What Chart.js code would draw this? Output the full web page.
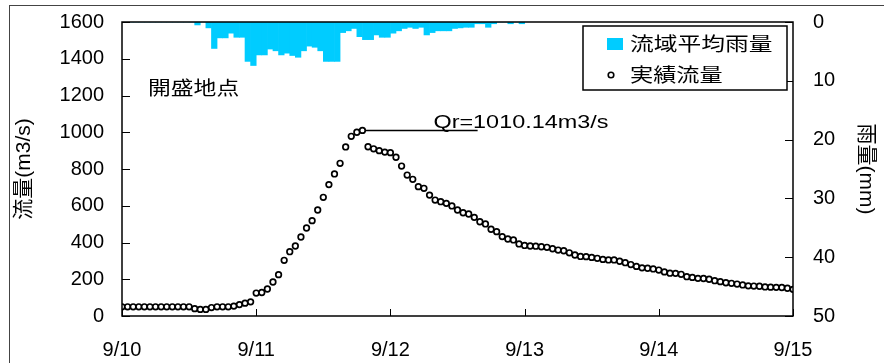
<!DOCTYPE html>
<html lang="ja">
<head>
<meta charset="utf-8">
<title>開盛地点 流量・雨量</title>
<script src="https://cdn.jsdelivr.net/npm/chart.js@4.4.1/dist/chart.umd.min.js"></script>
<style>
  html, body { margin: 0; padding: 0; background: #fff; }
  #wrap { width: 884px; height: 363px; }
</style>
</head>
<body>
<div id="wrap"><canvas id="flowChart" width="884" height="363"></canvas></div>
<script>
// Observed discharge (m3/s), hourly from 9/10 0:00 to 9/15 0:00
const flowValues = [
  50, 50, 50, 50, 50, 50, 50, 50, 50, 50, 50, 50, 50,
  40, 36, 36, 46, 50, 50, 50, 54, 62, 70, 77,
  125, 128, 147, 185, 225, 303, 350, 381, 430, 479, 519, 577, 646, 715, 773, 831, 920, 978, 1000, 1010.14,
  921, 910, 900, 892, 889, 864, 816, 767, 744, 704, 695, 658, 631, 622, 613, 599, 577,
  562, 555, 537, 513, 501, 472, 459, 432, 419, 414, 392, 384, 381, 380, 377, 374, 366, 359, 355, 344,
  332, 324, 323, 319, 314, 308, 305, 305, 298, 290, 280, 270, 262, 260, 256, 250, 240, 233, 232, 227,
  214, 210, 205, 204, 200, 192, 187, 181, 178, 174, 169, 164, 163, 162, 158, 157, 156, 155, 151, 145
];

// Basin average rainfall (mm) for each hour, starting 9/10 0:00
const rainValues = [
  0, 0, 0, 0, 0, 0, 0, 0, 0, 0, 0, 0, 0,
  0.5, 0, 1.0, 4.5, 2.7, 2.7, 1.9, 2.6, 2.6, 6.7, 7.4,
  5.6, 5.6, 4.6, 4.9, 5.6, 5.3, 5.7, 6.0, 4.9, 4.1, 4.3, 4.9, 6.7, 6.7, 6.7,
  1.8, 1.5, 1.1, 2.5, 3.0, 3.0, 2.2, 2.6, 2.6, 1.9, 1.5, 1.1, 0.9, 1.1, 0.9, 2.2, 1.8,
  1.5, 1.5, 1.5, 1.1, 1.0, 0.9, 0.9, 0.3, 0.3, 0.9, 0.3, 0, 0, 0.3, 0, 0.3
];

const dayLabels = ['9/10', '9/11', '9/12', '9/13', '9/14', '9/15'];
const flowTicks = [0, 200, 400, 600, 800, 1000, 1200, 1400, 1600];
const rainTicks = [0, 10, 20, 30, 40, 50];

// Peak marker
const peakHour = 43;
const peakFlow = 1010.14;
const peakLineEndHour = 63.6;

const tickFont = { family: "'Liberation Sans', Arial, sans-serif", size: 20 };
const cjkFont = "'Liberation Sans', 'Noto Sans CJK JP', sans-serif";

// Text drawn wider than tall, like the original figure
function drawWide(ctx, text, px, py, stretch) {
  ctx.save();
  ctx.translate(px, py);
  ctx.scale(stretch, 1);
  ctx.fillText(text, 0, 0);
  ctx.restore();
}

// Keep the tick label padding from pushing the plot area around
function fixVertical(width) {
  return s => {
    s.width = width;
    s.paddingTop = 0;
    s.paddingBottom = 0;
  };
}

// Frame, inward ticks, labels and legend
const chartExtras = {
  id: 'chartExtras',
  afterDraw(chart) {
    const { ctx, chartArea: a } = chart;
    const { x, y, y2 } = chart.scales;
    ctx.save();

    // outer figure frame
    ctx.strokeStyle = '#444';
    ctx.lineWidth = 1;
    ctx.strokeRect(9.5, 5.5, chart.width + 20, chart.height + 20);

    // plot frame
    ctx.strokeStyle = '#000';
    ctx.lineWidth = 1.5;
    ctx.strokeRect(a.left, a.top, a.right - a.left, a.bottom - a.top);

    // tick marks pointing inside
    ctx.lineWidth = 1;
    ctx.beginPath();
    y.ticks.forEach(t => {
      const py = Math.round(y.getPixelForValue(t.value)) + 0.5;
      ctx.moveTo(a.left, py);
      ctx.lineTo(a.left + 8, py);
    });
    y2.ticks.forEach(t => {
      const py = Math.round(y2.getPixelForValue(t.value)) + 0.5;
      ctx.moveTo(a.right, py);
      ctx.lineTo(a.right - 8, py);
    });
    x.ticks.forEach(t => {
      const px = Math.round(x.getPixelForValue(t.value)) + 0.5;
      ctx.moveTo(px, a.bottom);
      ctx.lineTo(px, a.bottom - 7);
    });
    ctx.stroke();

    ctx.fillStyle = '#000';
    ctx.textBaseline = 'alphabetic';
    ctx.textAlign = 'left';

    // peak discharge label
    ctx.font = "18px 'Liberation Sans', Arial, sans-serif";
    drawWide(ctx, 'Qr=' + peakFlow.toFixed(2) + 'm3/s',
      x.getPixelForValue(peakHour) + 71, y.getPixelForValue(peakFlow) - 2, 1.3);

    // station name
    ctx.font = '19px ' + cjkFont;
    drawWide(ctx, '開盛地点', a.left + 26, a.top + 73, 1.2);

    // legend
    const lx = a.right - 210, ly = a.top + 4;
    ctx.fillStyle = '#fff';
    ctx.fillRect(lx, ly, 204, 64);
    ctx.strokeStyle = '#000';
    ctx.lineWidth = 1.5;
    ctx.strokeRect(lx, ly, 204, 64);

    ctx.fillStyle = '#00CCFF';
    ctx.fillRect(lx + 24, ly + 12, 16, 12);
    ctx.beginPath();
    ctx.arc(lx + 28, ly + 49, 2.8, 0, Math.PI * 2);
    ctx.fillStyle = '#fff';
    ctx.fill();
    ctx.lineWidth = 1.6;
    ctx.stroke();

    ctx.fillStyle = '#000';
    ctx.font = '19px ' + cjkFont;
    drawWide(ctx, '流域平均雨量', lx + 47, ly + 25, 1.25);
    drawWide(ctx, '実績流量', lx + 47, ly + 56, 1.22);

    ctx.restore();
  }
};

new Chart(document.getElementById('flowChart'), {
  type: 'bar',
  data: {
    datasets: [
      {
        type: 'line',
        label: '実績流量',
        data: flowValues.map((v, i) => ({ x: i, y: v })),
        yAxisID: 'y',
        showLine: false,
        pointRadius: 2.8,
        pointBorderWidth: 1.7,
        pointBorderColor: '#000',
        pointBackgroundColor: '#fff',
        order: 1
      },
      {
        type: 'line',
        label: 'Qr',
        data: [{ x: peakHour, y: peakFlow }, { x: peakLineEndHour, y: peakFlow }],
        yAxisID: 'y',
        borderColor: '#000',
        borderWidth: 1.5,
        pointRadius: 0,
        order: 2
      },
      {
        type: 'bar',
        label: '流域平均雨量',
        data: rainValues.map((v, i) => ({ x: i + 0.5, y: v })),
        yAxisID: 'y2',
        backgroundColor: '#00CCFF',
        borderWidth: 0,
        barPercentage: 1,
        categoryPercentage: 1,
        order: 3
      }
    ]
  },
  options: {
    responsive: false,
    animation: false,
    layout: { padding: { top: 22, left: 0, right: 0, bottom: 0 } },
    plugins: {
      legend: { display: false },
      tooltip: { enabled: false }
    },
    scales: {
      x: {
        type: 'linear',
        min: 0,
        max: 120,
        offset: false,
        grid: { display: false, drawTicks: false },
        border: { display: false },
        ticks: {
          stepSize: 24,
          autoSkip: false,
          maxRotation: 0,
          padding: 22,
          color: '#000',
          font: tickFont,
          callback: v => dayLabels[v / 24]
        },
        afterFit: s => {
          s.height = 47;
          s.paddingLeft = 0;
          s.paddingRight = 0;
        }
      },
      y: {
        position: 'left',
        min: flowTicks[0],
        max: flowTicks[flowTicks.length - 1],
        grid: { display: false, drawTicks: false },
        border: { display: false },
        afterBuildTicks: s => { s.ticks = flowTicks.map(v => ({ value: v })); },
        ticks: { padding: 18, color: '#000', font: tickFont, callback: v => String(v) },
        title: {
          display: true,
          text: '流量(m3/s)',
          color: '#000',
          font: { family: cjkFont, size: 21 },
          padding: { top: 12, bottom: 0 }
        },
        afterFit: fixVertical(122)
      },
      y2: {
        position: 'right',
        reverse: true,
        min: rainTicks[0],
        max: rainTicks[rainTicks.length - 1],
        grid: { display: false, drawTicks: false },
        border: { display: false },
        afterBuildTicks: s => { s.ticks = rainTicks.map(v => ({ value: v })); },
        ticks: { padding: 20, color: '#000', font: tickFont, callback: v => String(v) },
        title: {
          display: true,
          text: '雨量(mm)',
          color: '#000',
          font: { family: cjkFont, size: 21 },
          padding: { top: 6, bottom: 0 }
        },
        afterFit: fixVertical(91)
      }
    }
  },
  plugins: [chartExtras]
});
</script>
</body>
</html>
